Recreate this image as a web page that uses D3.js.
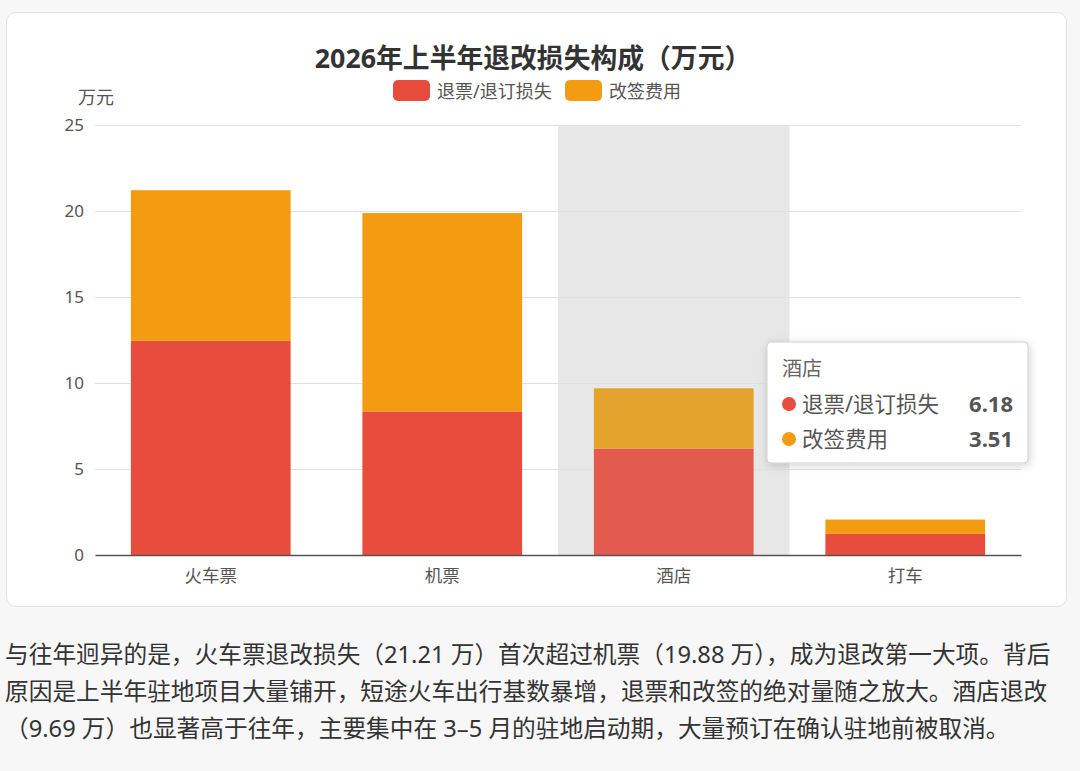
<!DOCTYPE html>
<html>
<head>
<meta charset="utf-8">
<script src="https://cdn.jsdelivr.net/npm/d3@7"></script>
<style>
  html, body { margin: 0; padding: 0; background: #f7f7f7; }
  body { width: 1080px; height: 771px; overflow: hidden; font-family: "Noto Sans", "Noto Sans CJK SC", sans-serif; }
  #card { position: absolute; left: 6px; top: 12px; width: 1061px; height: 595px; background: #fff;
          border: 1px solid #e3e3e3; border-radius: 10px; box-sizing: border-box; }
  svg { position: absolute; left: 0; top: 0; }
  #note { position: absolute; left: 5px; top: 636px; font-size: 23.7px; line-height: 37px; color: #333; }
  #note span { display: block; white-space: nowrap; }
</style>
</head>
<body>
<div id="card"></div>
<svg width="1080" height="771"></svg>
<div id="note">
  <span>与往年迥异的是，火车票退改损失（21.21 万）首次超过机票（19.88 万），成为退改第一大项。背后</span>
  <span>原因是上半年驻地项目大量铺开，短途火车出行基数暴增，退票和改签的绝对量随之放大。酒店退改</span>
  <span>（9.69 万）也显著高于往年，主要集中在 3–5 月的驻地启动期，大量预订在确认驻地前被取消。</span>
</div>
<script>
// data
var categories = ["火车票", "机票", "酒店", "打车"];
var seriesNames = ["退票/退订损失", "改签费用"];
var refundLoss = [12.45, 8.35, 6.18, 1.23];
var changeFee = [8.76, 11.53, 3.51, 0.83];
var yTicks = [0, 5, 10, 15, 20, 25];
var hoverIndex = 2;

var colors = ["#e74c3c", "#f39c12"];
var hoverColors = ["#e35b4e", "#e3a22b"];
var fontFam = "'Noto Sans', 'Noto Sans CJK SC', sans-serif";

var svg = d3.select("svg");
var margin = {left: 95, right: 59, top: 125, bottom: 216};
var width = 1080 - margin.left - margin.right;
var height = 771 - margin.top - margin.bottom;

var x = d3.scaleBand().domain(categories).range([margin.left, margin.left + width]).paddingInner(0).paddingOuter(0);
var y = d3.scaleLinear().domain([0, 25]).range([margin.top + height, margin.top]);
var barW = x.bandwidth() * 0.69;

// title
svg.append("text").attr("x", 533).attr("y", 68).attr("text-anchor", "middle")
  .style("font-size", "26.8px").style("font-weight", "bold").style("fill", "#333")
  .text("2026年上半年退改损失构成（万元）");

// legend
var legendX = [393, 565];
seriesNames.forEach(function (name, i) {
  svg.append("rect").attr("x", legendX[i]).attr("y", 80).attr("width", 37).attr("height", 21)
    .attr("rx", 5).style("fill", colors[i]);
  svg.append("text").attr("x", legendX[i] + 44).attr("y", 98)
    .style("font-size", "18px").style("fill", "#555").text(name);
});

// unit
svg.append("text").attr("x", 96).attr("y", 104).attr("text-anchor", "middle")
  .style("font-size", "18px").style("fill", "#555").text("万元");

// hover shadow
svg.append("rect").attr("x", x(categories[hoverIndex])).attr("y", margin.top)
  .attr("width", x.bandwidth()).attr("height", height).style("fill", "#e7e7e7");

// grid + y axis
var yAxis = d3.axisLeft(y).tickValues(yTicks).tickSize(-width).tickPadding(11);
var gy = svg.append("g").attr("transform", "translate(" + margin.left + ",0)").call(yAxis);
gy.select(".domain").remove();
gy.selectAll(".tick line").style("stroke", "#e0e0e0");
gy.selectAll(".tick text").style("font-size", "17px").style("fill", "#555").style("font-family", fontFam);

// stacked bars
var rows = categories.map(function (c, i) { return {cat: c, a: refundLoss[i], b: changeFee[i], i: i}; });
var stack = d3.stack().keys(["a", "b"])(rows);
stack.forEach(function (layer, si) {
  svg.append("g").selectAll("rect").data(layer).enter().append("rect")
    .attr("x", function (d) { return x(d.data.cat) + (x.bandwidth() - barW) / 2; })
    .attr("y", function (d) { return y(d[1]); })
    .attr("width", barW)
    .attr("height", function (d) { return y(d[0]) - y(d[1]); })
    .style("fill", function (d) { return d.data.i === hoverIndex ? hoverColors[si] : colors[si]; });
});

// x axis
var xAxis = d3.axisBottom(x).tickSize(0).tickPadding(15);
var gx = svg.append("g").attr("transform", "translate(0," + (margin.top + height) + ")").call(xAxis);
gx.select(".domain").style("stroke", "#555").style("stroke-width", 1.3);
gx.selectAll(".tick text").style("font-size", "17.5px").style("fill", "#555").style("font-family", fontFam);

// tooltip
var defs = svg.append("defs");
var f = defs.append("filter").attr("id", "sh").attr("x", "-20%").attr("y", "-20%").attr("width", "140%").attr("height", "150%");
f.append("feDropShadow").attr("dx", 1).attr("dy", 2).attr("stdDeviation", 4).attr("flood-color", "#000").attr("flood-opacity", 0.18);
var tip = svg.append("g").attr("transform", "translate(767,342)");
tip.append("rect").attr("width", 261).attr("height", 121).attr("rx", 4)
  .style("fill", "#fff").style("stroke", "#d0d0d0").attr("filter", "url(#sh)");
tip.append("text").attr("x", 15).attr("y", 34).style("font-size", "20px").style("fill", "#666")
  .text(categories[hoverIndex]);
[refundLoss[hoverIndex], changeFee[hoverIndex]].forEach(function (v, i) {
  var yy = 62 + i * 35;
  tip.append("circle").attr("cx", 22).attr("cy", yy).attr("r", 7).style("fill", colors[i]);
  tip.append("text").attr("x", 35).attr("y", yy + 8).style("font-size", "21.5px").style("fill", "#555").text(seriesNames[i]);
  tip.append("text").attr("x", 246).attr("y", yy + 8).attr("text-anchor", "end")
    .style("font-size", "22px").style("font-weight", "bold").style("fill", "#555").text(v.toFixed(2));
});
</script>
</body>
</html>
